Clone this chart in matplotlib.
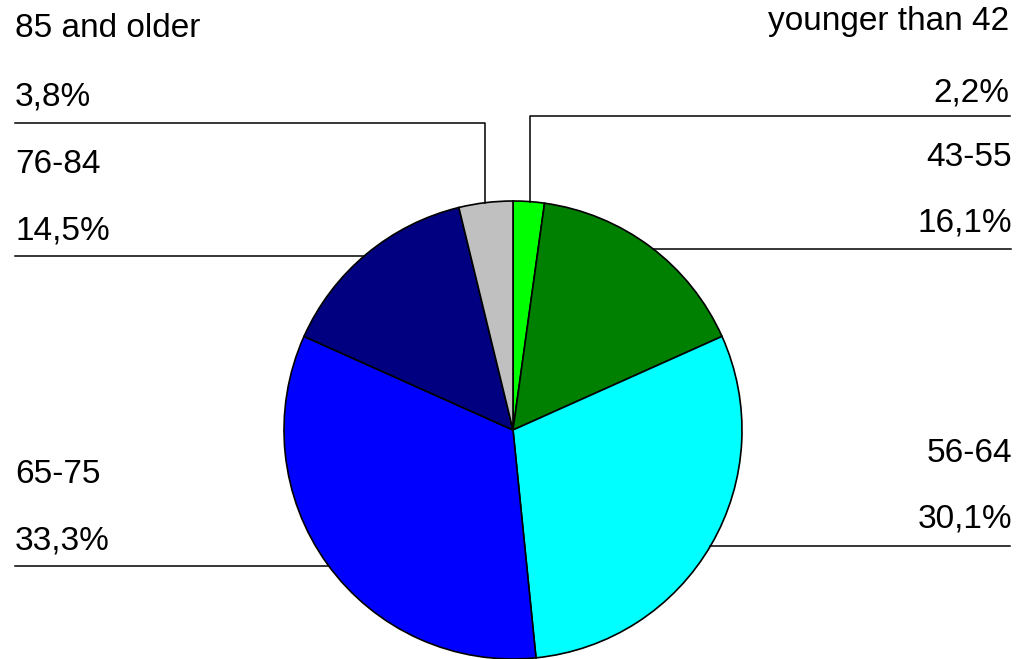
import numpy as np
import matplotlib.pyplot as plt

plt.rcParams['font.family'] = ['Liberation Sans', 'DejaVu Sans']

groups = ['younger than 42', '43-55', '56-64', '65-75', '76-84', '85 and older']
shares = [2.2, 16.1, 30.1, 33.3, 14.5, 3.8]
colors = ['#00ff00', '#008000', '#00ffff', '#0000ff', '#000080', '#c0c0c0']

W, H = 1022, 659
cx, cy, r = 513, 430, 229  # pie centre / radius in pixels (y from top)

fig = plt.figure(figsize=(W / 100, H / 100), dpi=100)
ax = fig.add_axes([0, 0, 1, 1])
ax.set_xlim(0, W)
ax.set_ylim(0, H)
ax.set_aspect('equal')
ax.axis('off')

Y = lambda py: H - py

ax.pie(shares, colors=colors, startangle=90, counterclock=False,
       center=(cx, Y(cy)), radius=r,
       wedgeprops=dict(edgecolor='black', linewidth=1.2))
ax.set_xlim(0, W)
ax.set_ylim(0, H)


def edge_x(py, side):
    dx = np.sqrt(r ** 2 - (py - cy) ** 2)
    return cx + side * dx


def edge_y(px):
    return cy - np.sqrt(r ** 2 - (px - cx) ** 2)


def label(name, pct, x, y1, y2, ha):
    ax.text(x, Y(y1), name, fontsize=24, ha=ha, va='baseline')
    ax.text(x, Y(y2), pct, fontsize=24, ha=ha, va='baseline')


def fmt(v):
    return f'{v:.1f}'.replace('.', ',') + '%'


lw = 1.1
# younger than 42 (right, top)
label(groups[0], fmt(shares[0]), 1009, 30, 102, 'right')
ax.plot([1010, 530, 530], [Y(116), Y(116), Y(edge_y(530))], color='black', lw=lw)
# 43-55
label(groups[1], fmt(shares[1]), 1012, 166, 231, 'right')
ax.plot([1011, edge_x(249, 1)], [Y(249), Y(249)], color='black', lw=lw)
# 56-64
label(groups[2], fmt(shares[2]), 1012, 462, 528, 'right')
ax.plot([1010, edge_x(546, 1)], [Y(546), Y(546)], color='black', lw=lw)
# 65-75
label(groups[3], fmt(shares[3]), 15, 483, 550, 'left')
ax.plot([15, edge_x(566, -1)], [Y(566), Y(566)], color='black', lw=lw)
# 76-84
label(groups[4], fmt(shares[4]), 15, 173, 239, 'left')
ax.plot([15, edge_x(256, -1)], [Y(256), Y(256)], color='black', lw=lw)
# 85 and older
label(groups[5], fmt(shares[5]), 15, 37, 105, 'left')
ax.plot([15, 485, 485], [Y(123), Y(123), Y(edge_y(485))], color='black', lw=lw)

fig.savefig('out.png', dpi=100)
